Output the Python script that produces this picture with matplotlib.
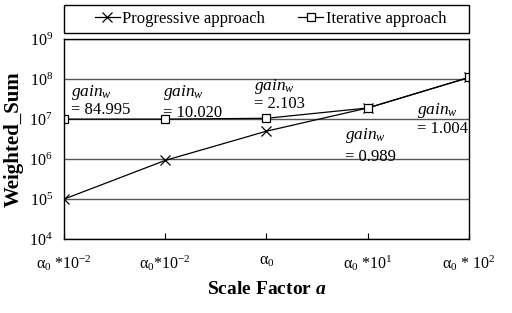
import matplotlib
matplotlib.use("Agg")
import matplotlib.pyplot as plt
from matplotlib.patches import Rectangle

plt.rcParams['font.family'] = ['Liberation Serif', 'DejaVu Serif']
plt.rcParams['mathtext.fontset'] = 'custom'
plt.rcParams['mathtext.rm'] = 'Liberation Serif'
plt.rcParams['mathtext.it'] = 'Liberation Serif:italic'
plt.rcParams['mathtext.bf'] = 'Liberation Serif:bold'
plt.rcParams['mathtext.bfit'] = 'Liberation Serif:bold:italic'

# data
scale_labels = [r"$\mathrm{\alpha}_0$ *10$^{-2}$", r"$\mathrm{\alpha}_0$*10$^{-2}$",
                r"$\mathrm{\alpha}_0$", r"$\mathrm{\alpha}_0$ *10$^{1}$",
                r"$\mathrm{\alpha}_0$ * 10$^{2}$"]
progressive = [1.0e5, 9.3e5, 5.0e6, 1.9e7, 1.1e8]
iterative = [1.0e7, 1.0e7, 1.05e7, 1.9e7, 1.1e8]
gains = ["84.995", "10.020", "2.103", "0.989", "1.004"]

# where each gain note sits (x index, y of "gain" line, y of value line)
gain_x = [0.07, 0.98, 1.88, 2.78, 3.49]
gain_y1 = [4.6e7, 4.6e7, 6.6e7, 3.9e6, 1.65e7]
gain_y2 = [1.7e7, 1.4e7, 2.4e7, 1.15e6, 5.8e6]

fig = plt.figure(figsize=(5.12, 3.13), dpi=100)
ax = fig.add_axes([0.125, 0.236, 0.791, 0.639])

xs = list(range(len(scale_labels)))
ax.plot(xs, progressive, color='black', lw=0.9, marker='x', ms=7, mew=0.9,
        label='Progressive approach')
ax.plot(xs, iterative, color='black', lw=0.9, marker='s', ms=6, mew=0.9,
        mfc='white', label='Iterative approach')

ax.set_yscale('log')
ax.set_ylim(1e4, 1e9)
ax.set_xlim(0, 4)
ax.set_xticks(xs)
ax.set_xticklabels(scale_labels, fontsize=11.5)
ax.tick_params(axis='x', direction='in', length=4, pad=10)
ax.tick_params(axis='y', length=0, labelsize=11.5, pad=8)
ax.minorticks_off()
ax.yaxis.grid(True, color='#555555', lw=1)
ax.set_axisbelow(True)
for s in ax.spines.values():
    s.set_color('black')
    s.set_linewidth(1)

for i in range(len(gains)):
    ax.text(gain_x[i], gain_y1[i], r"$gain_w$", fontsize=12.5, va='center', ha='left')
    ax.text(gain_x[i], gain_y2[i], "= " + gains[i], fontsize=12, va='center', ha='left')

ax.set_ylabel("Weighted_Sum", fontsize=15, fontweight='bold', labelpad=4)
ax.set_xlabel(r"Scale Factor $\boldsymbol{a}$", fontsize=14, fontweight='bold', labelpad=6)

# legend box spans the full axes width, entries sit centred inside it
box = Rectangle((0, 1.03), 1.0, 0.14, transform=ax.transAxes, fill=False,
                edgecolor='black', lw=1, clip_on=False)
ax.add_patch(box)
leg = ax.legend(loc='center', bbox_to_anchor=(0.51, 1.10), ncol=2, fontsize=12,
                frameon=False, handlelength=1.5, handletextpad=0.15,
                borderpad=0, borderaxespad=0, columnspacing=2.0)

fig.savefig("out.png", dpi=100)
